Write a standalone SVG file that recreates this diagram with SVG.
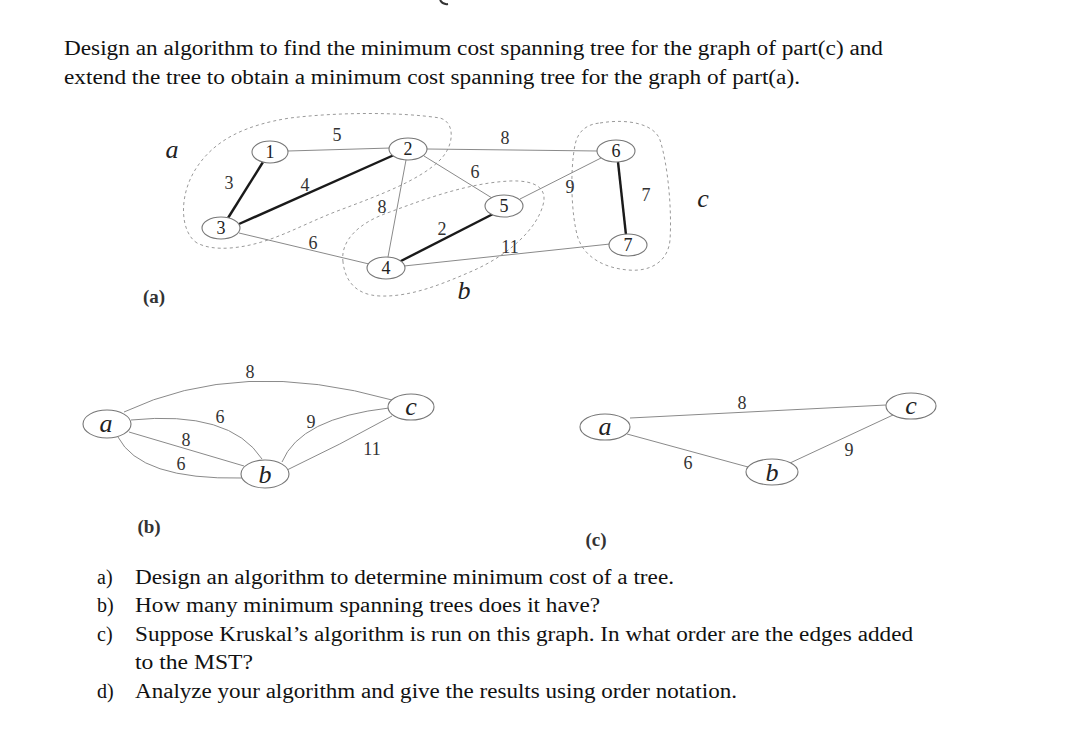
<svg xmlns="http://www.w3.org/2000/svg" width="1080" height="750" viewBox="0 0 1080 750">
<style>
.txt{font-family:"Liberation Serif","Times New Roman",serif;fill:#111;font-size:20px}
.node{fill:#fff;stroke:#777;stroke-width:1.1}
.nl{font-family:"Liberation Serif","Times New Roman",serif;font-size:18px;fill:#222;text-anchor:middle}
.el{font-family:"Liberation Serif","Times New Roman",serif;font-size:18px;fill:#333;text-anchor:middle}
.it{font-family:"Liberation Serif","Times New Roman",serif;font-style:italic;font-size:26px;fill:#222;text-anchor:middle}
.pl{font-family:"Liberation Serif","Times New Roman",serif;font-weight:bold;font-size:19px;fill:#333;text-anchor:middle}
.thin{fill:none;stroke:#8a8a8a;stroke-width:1}
.thick{fill:none;stroke:#1a1a1a;stroke-width:2.4}
.dash{fill:none;stroke:#9a9a9a;stroke-width:1;stroke-dasharray:3,3}
</style>
<rect width="1080" height="750" fill="#fff"/>
<path d="M440,0 Q443,5 448,4" fill="none" stroke="#333" stroke-width="2"/>

<g id="header">
<text class="txt" x="64" y="55" textLength="819" lengthAdjust="spacingAndGlyphs">Design an algorithm to find the minimum cost spanning tree for the graph of part(c) and</text>
<text class="txt" x="64" y="84" textLength="736" lengthAdjust="spacingAndGlyphs">extend the tree to obtain a minimum cost spanning tree for the graph of part(a).</text>
</g>

<g id="regions">
<path class="dash" d="M197,243 C180,232 178,195 197,167 C215,140 245,125 290,118 C340,112 400,112 440,118 C455,122 455,145 440,160 C420,180 380,195 340,210 C300,225 270,245 230,248 C215,249 205,247 197,243 Z"/>
<path class="dash" d="M343,262 C340,240 360,222 390,212 C430,197 470,183 510,181 C535,180 548,188 543,205 C537,228 510,255 470,272 C440,285 410,297 380,296 C355,295 345,280 343,262 Z"/>
<path class="dash" d="M600,123 C630,118 655,125 660,140 C668,165 672,210 670,240 C668,262 650,272 628,270 C605,268 585,258 578,238 C571,215 570,170 575,145 C578,130 588,124 600,123 Z"/>
</g>

<g id="connectors">
<line class="thin" x1="288" y1="151" x2="391" y2="148"/>
<line class="thin" x1="427" y1="149" x2="598" y2="151"/>
<line class="thin" x1="424" y1="156" x2="492" y2="198"/>
<line class="thin" x1="406" y1="160" x2="388" y2="257"/>
<line class="thin" x1="239" y1="233" x2="369" y2="264"/>
<line class="thin" x1="404" y1="266" x2="610" y2="244"/>
<line class="thin" x1="520" y1="199" x2="601" y2="158"/>
<line class="thick" x1="263" y1="162" x2="228" y2="218"/>
<line class="thick" x1="239" y1="224" x2="394" y2="155"/>
<line class="thick" x1="399" y1="262" x2="493" y2="214"/>
<line class="thick" x1="618" y1="162" x2="626" y2="235"/>

<path class="thin" d="M124,412 Q240,357 392,400"/>
<path class="thin" d="M131,420 Q230,410 262,459"/>
<line class="thin" x1="129" y1="432" x2="244" y2="466"/>
<path class="thin" d="M118,437 Q140,480 242,478"/>
<path class="thin" d="M282,462 Q300,418 389,408"/>
<path class="thin" d="M287,470 Q340,445 392,416"/>

<line class="thin" x1="630" y1="418" x2="886" y2="405"/>
<line class="thin" x1="627" y1="434" x2="748" y2="467"/>
<line class="thin" x1="790" y1="463" x2="893" y2="415"/>
</g>

<g id="edge-labels">
<text class="el" x="337" y="141">5</text>
<text class="el" x="229" y="189">3</text>
<text class="el" x="305" y="191">4</text>
<text class="el" x="382" y="213">8</text>
<text class="el" x="313" y="249">6</text>
<text class="el" x="505" y="144">8</text>
<text class="el" x="475" y="178">6</text>
<text class="el" x="570" y="193">9</text>
<text class="el" x="646" y="201">7</text>
<text class="el" x="442" y="235">2</text>
<text class="el" x="510" y="253">11</text>

<text class="el" x="250" y="378">8</text>
<text class="el" x="220" y="423">6</text>
<text class="el" x="186" y="446">8</text>
<text class="el" x="181" y="470">6</text>
<text class="el" x="311" y="428">9</text>
<text class="el" x="372" y="455">11</text>

<text class="el" x="742" y="409">8</text>
<text class="el" x="688" y="469">6</text>
<text class="el" x="849" y="456">9</text>
</g>

<g id="node-1"><ellipse class="node" cx="270" cy="152" rx="18" ry="11"/><text class="nl" x="270" y="158">1</text></g>
<g id="node-2"><ellipse class="node" cx="408" cy="149" rx="19" ry="11"/><text class="nl" x="408" y="155">2</text></g>
<g id="node-3"><ellipse class="node" cx="221" cy="228" rx="19" ry="11"/><text class="nl" x="221" y="234">3</text></g>
<g id="node-4"><ellipse class="node" cx="386" cy="268" rx="19" ry="11"/><text class="nl" x="386" y="274">4</text></g>
<g id="node-5"><ellipse class="node" cx="504" cy="206" rx="19" ry="11"/><text class="nl" x="504" y="212">5</text></g>
<g id="node-6"><ellipse class="node" cx="616" cy="151" rx="19" ry="11"/><text class="nl" x="616" y="157">6</text></g>
<g id="node-7"><ellipse class="node" cx="628" cy="245" rx="19" ry="11"/><text class="nl" x="628" y="251">7</text></g>

<g id="labels-a">
<text class="it" x="172" y="158">a</text>
<text class="it" x="703" y="207">c</text>
<text class="it" x="464" y="299">b</text>
<text class="pl" x="154" y="303">(a)</text>
</g>

<g id="b-node-a"><ellipse class="node" cx="107" cy="424" rx="24" ry="14"/><text class="it" x="106" y="432">a</text></g>
<g id="b-node-b"><ellipse class="node" cx="265" cy="474" rx="24" ry="14"/><text class="it" x="265" y="483">b</text></g>
<g id="b-node-c"><ellipse class="node" cx="411" cy="407" rx="23" ry="13"/><text class="it" x="411" y="415">c</text></g>
<text class="pl" x="149" y="533">(b)</text>

<g id="c-node-a"><ellipse class="node" cx="605" cy="427" rx="25" ry="13"/><text class="it" x="605" y="435">a</text></g>
<g id="c-node-b"><ellipse class="node" cx="772" cy="472" rx="26" ry="13"/><text class="it" x="772" y="481">b</text></g>
<g id="c-node-c"><ellipse class="node" cx="911" cy="406" rx="25" ry="13"/><text class="it" x="911" y="414">c</text></g>
<text class="pl" x="596" y="546">(c)</text>

<g id="questions">
<text class="txt" x="97" y="584">a)</text>
<text class="txt" x="135" y="584" textLength="539" lengthAdjust="spacingAndGlyphs">Design an algorithm to determine minimum cost of a tree.</text>
<text class="txt" x="97" y="612">b)</text>
<text class="txt" x="135" y="612" textLength="465" lengthAdjust="spacingAndGlyphs">How many minimum spanning trees does it have?</text>
<text class="txt" x="97" y="641">c)</text>
<text class="txt" x="135" y="641" textLength="778" lengthAdjust="spacingAndGlyphs">Suppose Kruskal’s algorithm is run on this graph. In what order are the edges added</text>
<text class="txt" x="135" y="669" textLength="118" lengthAdjust="spacingAndGlyphs">to the MST?</text>
<text class="txt" x="97" y="698">d)</text>
<text class="txt" x="135" y="698" textLength="602" lengthAdjust="spacingAndGlyphs">Analyze your algorithm and give the results using order notation.</text>
</g>
</svg>
